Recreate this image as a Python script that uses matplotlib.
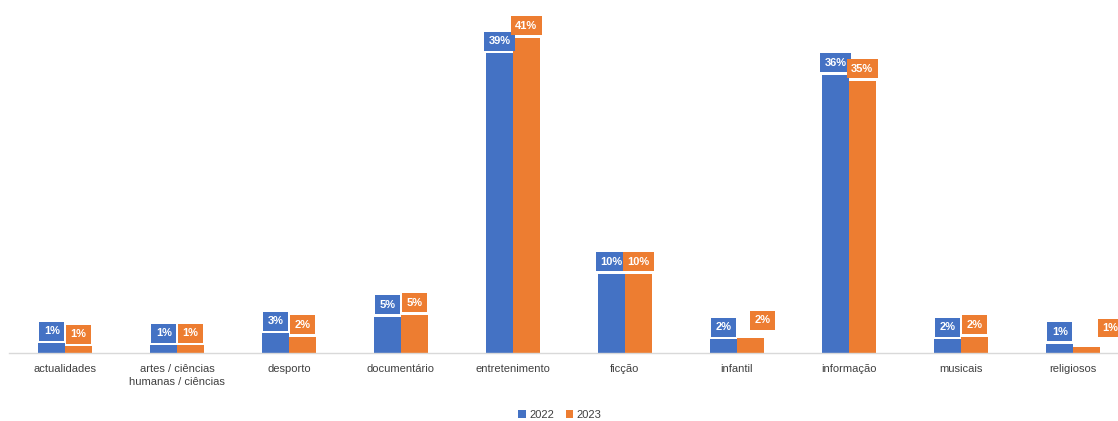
import matplotlib
matplotlib.use("Agg")
import matplotlib.pyplot as plt
import numpy as np

categories = ['actualidades', 'artes / ciências\nhumanas / ciências', 'desporto',
              'documentário', 'entretenimento', 'ficção', 'infantil',
              'informação', 'musicais', 'religiosos']
values_2022 = [1.3, 1.0, 2.6, 4.7, 39.0, 10.3, 1.8, 36.2, 1.8, 1.2]
values_2023 = [0.9, 1.0, 2.1, 5.0, 41.0, 10.3, 2.0, 35.4, 2.1, 0.8]
series_names = ['2022', '2023']

BLUE = '#4472C4'
ORANGE = '#ED7D31'
TXT = '#404040'

plt.rcParams['font.family'] = ['Liberation Sans', 'DejaVu Sans']

fig = plt.figure(figsize=(11.18, 4.21), dpi=100)
# plot area runs a little past the right edge, as in the cropped original
ax = fig.add_axes([9 / 1118, 68 / 421, 1120 / 1118, 346 / 421])

x = np.arange(len(categories))
w = 0.237
bars1 = ax.bar(x - w / 2, values_2022, w, color=BLUE, label=series_names[0])
bars2 = ax.bar(x + w / 2, values_2023, w, color=ORANGE, label=series_names[1])

# labels Excel moved to avoid collisions: index -> (dx, dy) in points
moved_2023 = {6: (9, 4), 9: (17, 5)}

for bars, vals, col, moved in ((bars1, values_2022, BLUE, {}),
                               (bars2, values_2023, ORANGE, moved_2023)):
    for i, (b, v) in enumerate(zip(bars, vals)):
        dx, dy = moved.get(i, (0, 0))
        ax.annotate('{:.0f}%'.format(v),
                    (b.get_x() + b.get_width() / 2, b.get_height()),
                    xytext=(dx, 5 + dy), textcoords='offset points',
                    ha='center', va='bottom', color='white',
                    fontsize=8, fontweight='bold',
                    bbox=dict(boxstyle='square,pad=0.4', fc=col, ec='none'),
                    annotation_clip=False)

ax.set_xlim(-0.5, len(categories) - 0.5)
ax.set_ylim(0, 45)
ax.set_xticks(x)
ax.set_xticklabels(categories, fontsize=8, color=TXT, linespacing=1.3)
ax.tick_params(axis='x', length=0, pad=8)
ax.set_yticks([])
for s in ('top', 'right', 'left'):
    ax.spines[s].set_visible(False)
ax.spines['bottom'].set_color('#D9D9D9')
ax.spines['bottom'].set_linewidth(1)

leg = fig.legend(loc='center', bbox_to_anchor=(560 / 1118, 1 - 415 / 421),
                 ncol=2, frameon=False, fontsize=8, handlelength=0.7,
                 handleheight=0.7, columnspacing=1.0, handletextpad=0.3)
for t in leg.get_texts():
    t.set_color(TXT)

fig.savefig('out.png', dpi=100)
